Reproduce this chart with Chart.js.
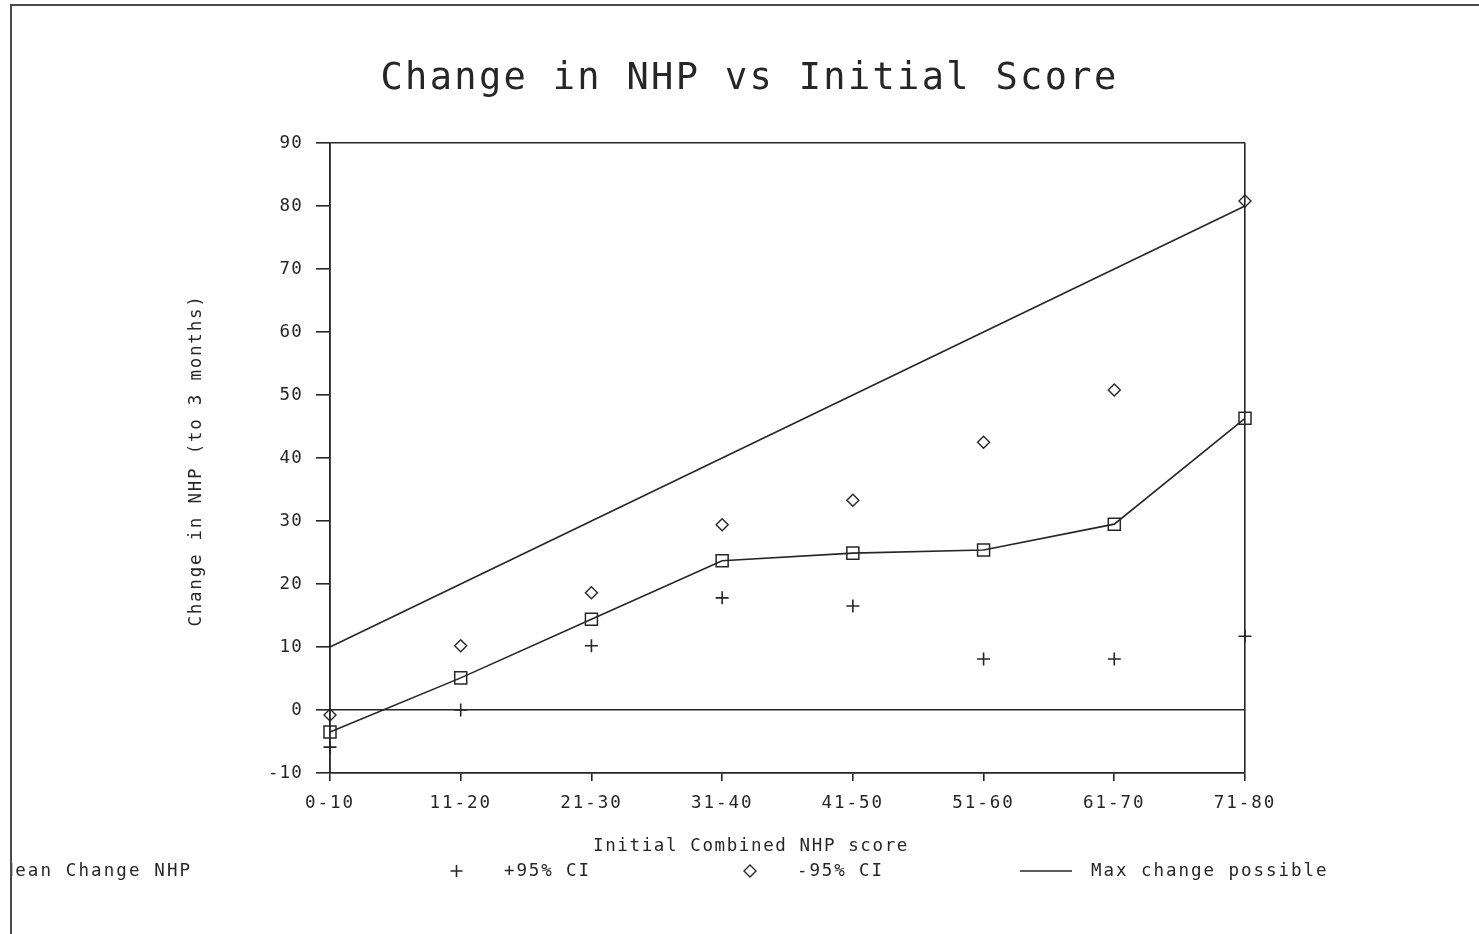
<!DOCTYPE html>
<html>
<head>
<meta charset="utf-8">
<script src="https://cdn.jsdelivr.net/npm/chart.js@4/dist/chart.umd.min.js"></script>
<style>
  html, body { margin: 0; padding: 0; background: #fff; }
  #wrap { width: 1479px; height: 934px; position: relative; }
</style>
</head>
<body>
<div id="wrap"><canvas id="c" width="1479" height="934"></canvas></div>
<script>
// Initial combined NHP score bands
const categories = ['0-10', '11-20', '21-30', '31-40', '41-50', '51-60', '61-70', '71-80'];
// Mean change in NHP at 3 months per band
const meanChange = [-3.5, 5.1, 14.4, 23.7, 24.9, 25.4, 29.5, 46.3];
// Confidence-interval points, as labelled in the legend
const plus95CI = [-5.9, 0.0, 10.2, 17.8, 16.5, 8.1, 8.1, 11.7];
const minus95CI = [-0.8, 10.2, 18.6, 29.4, 33.3, 42.5, 50.8, 80.8];
// Largest change that is possible for each band
const maxChange = [10, 20, 30, 40, 50, 60, 70, 80];
// Value axis
const yTicks = [-10, 0, 10, 20, 30, 40, 50, 60, 70, 80, 90];
const yTickLabels = ['-10', '0', '10', '20', '30', '40', '50', '60', '70', '80', '90'];
const ruledValues = [-10, 0, 90];

const INK = '#262626';
const MONO = '"DejaVu Sans Mono", "Liberation Mono", monospace';

// Fixed-pitch text: every character sits in a cell of the given width.
function mono(ctx, text, x, y, align, size, pitch) {
  ctx.font = size + 'px ' + MONO;
  ctx.letterSpacing = '0px';
  ctx.textAlign = 'left';
  const adv = ctx.measureText('0').width;
  const total = text.length * pitch;
  let sx = x;
  if (align === 'center') sx = x - total / 2;
  else if (align === 'right') sx = x - total;
  ctx.letterSpacing = (pitch - adv) + 'px';
  ctx.fillText(text, sx, y);
  ctx.letterSpacing = '0px';
}

const SMALL = 17.5;

const decorations = {
  id: 'decorations',
  afterDraw(chart) {
    const ctx = chart.ctx;
    const xs = chart.scales.x;
    const ys = chart.scales.y;
    ctx.save();
    ctx.fillStyle = INK;
    ctx.strokeStyle = INK;

    // title
    ctx.textBaseline = 'alphabetic';
    mono(ctx, 'Change in NHP vs Initial Score', 749.5, 89, 'center', 37, 24.6);

    // value-axis tick labels
    ctx.textBaseline = 'middle';
    yTicks.forEach((v, i) => {
      mono(ctx, yTickLabels[i], 303, ys.getPixelForValue(v) + 0.5, 'right', SMALL, 11.7);
    });

    // category labels
    categories.forEach((c, i) => {
      mono(ctx, c, xs.getPixelForValue(i), 803, 'center', SMALL, 12.5);
    });

    // axis titles
    mono(ctx, 'Initial Combined NHP score', 751, 846, 'center', SMALL, 12.15);
    ctx.save();
    ctx.translate(196, 460.5);
    ctx.rotate(-Math.PI / 2);
    mono(ctx, 'Change in NHP (to 3 months)', 0, 0, 'center', SMALL, 12.3);
    ctx.restore();

    // legend
    const ly = 871;
    ctx.save();
    ctx.beginPath();
    ctx.rect(12, 0, 1479, 934);
    ctx.clip();
    mono(ctx, 'Mean Change NHP', 2.5, ly, 'left', SMALL, 12.65);
    ctx.restore();

    ctx.lineWidth = 1.6;
    // cross marker
    ctx.beginPath();
    ctx.moveTo(450.5, ly); ctx.lineTo(462.5, ly);
    ctx.moveTo(456.5, ly - 6); ctx.lineTo(456.5, ly + 6);
    ctx.stroke();
    mono(ctx, '+95% CI', 504, ly, 'left', SMALL, 12.4);

    // diamond marker
    ctx.lineWidth = 1.4;
    ctx.beginPath();
    ctx.moveTo(750, ly - 6); ctx.lineTo(756, ly); ctx.lineTo(750, ly + 6); ctx.lineTo(744, ly);
    ctx.closePath();
    ctx.stroke();
    mono(ctx, '-95% CI', 797, ly, 'left', SMALL, 12.4);

    // line sample
    ctx.lineWidth = 1.6;
    ctx.beginPath();
    ctx.moveTo(1020, ly); ctx.lineTo(1072, ly);
    ctx.stroke();
    mono(ctx, 'Max change possible', 1091, ly, 'left', SMALL, 12.5);

    // outer frame
    ctx.lineWidth = 2;
    ctx.strokeStyle = '#4a4a4a';
    ctx.beginPath();
    ctx.moveTo(11, 934);
    ctx.lineTo(11, 5);
    ctx.lineTo(1479, 5);
    ctx.stroke();

    ctx.restore();
  }
};

new Chart(document.getElementById('c'), {
  type: 'line',
  data: {
    labels: categories,
    datasets: [
      {
        label: 'Mean Change NHP', data: meanChange, clip: false,
        borderColor: INK, borderWidth: 1.6, tension: 0, fill: false,
        pointStyle: 'rect', pointRadius: 8.5, pointBorderWidth: 1.5,
        pointBorderColor: INK, pointBackgroundColor: 'rgba(0,0,0,0)'
      },
      {
        label: '+95% CI', data: plus95CI, clip: false, showLine: false,
        pointStyle: 'cross', pointRadius: 6.5, pointBorderWidth: 1.6,
        pointBorderColor: INK, pointBackgroundColor: INK
      },
      {
        label: '-95% CI', data: minus95CI, clip: false, showLine: false,
        pointStyle: 'rectRot', pointRadius: 6, pointBorderWidth: 1.4,
        pointBorderColor: INK, pointBackgroundColor: 'rgba(0,0,0,0)'
      },
      {
        label: 'Max change possible', data: maxChange, clip: false,
        borderColor: INK, borderWidth: 1.6, tension: 0, fill: false,
        pointRadius: 0
      }
    ]
  },
  options: {
    responsive: false,
    animation: false,
    events: [],
    layout: { padding: { left: 0, top: 143, right: 234, bottom: 101 } },
    plugins: {
      legend: { display: false },
      title: { display: false },
      tooltip: { enabled: false }
    },
    scales: {
      x: {
        type: 'category',
        offset: false,
        ticks: { display: false },
        grid: {
          color: c => (c.index === 0 || c.index === categories.length - 1) ? INK : 'rgba(0,0,0,0)',
          lineWidth: 1.6,
          tickColor: INK,
          tickLength: 8,
          drawTicks: true
        },
        border: { display: true, color: INK, width: 1.6 },
        afterFit(s) { s.height = 60; }
      },
      y: {
        type: 'linear',
        min: -10, max: 90,
        ticks: { display: false, stepSize: 10 },
        grid: {
          color: c => ruledValues.includes(c.tick.value) ? INK : 'rgba(0,0,0,0)',
          lineWidth: 1.6,
          tickColor: INK,
          tickLength: 14,
          drawTicks: true
        },
        border: { display: true, color: INK, width: 1.6 },
        afterFit(s) { s.width = 330; }
      }
    }
  },
  plugins: [decorations]
});
</script>
</body>
</html>
